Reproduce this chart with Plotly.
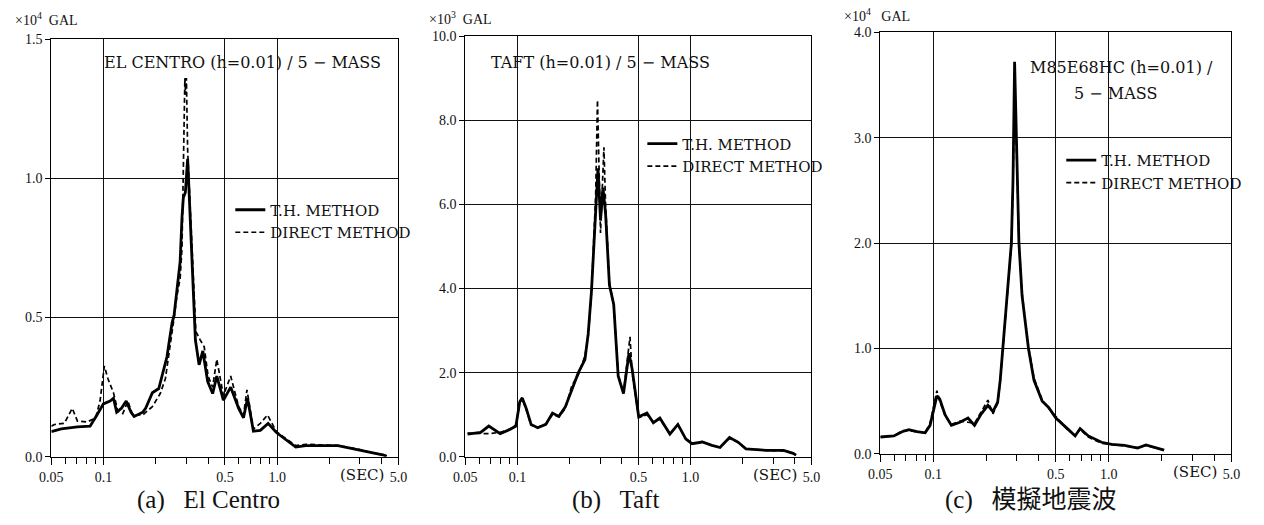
import plotly.graph_objects as go
import math

# ---------------- data ----------------
# (a) El Centro, values x10^4 GAL
a_th_T = [0.05, 0.057, 0.0707, 0.0836, 0.0916, 0.0997, 0.109, 0.114, 0.119, 0.127, 0.135, 0.144, 0.150,
          0.168, 0.175, 0.191, 0.208, 0.217, 0.232, 0.237, 0.248, 0.255, 0.262, 0.270, 0.276, 0.283, 0.288,
          0.296, 0.302, 0.305, 0.309, 0.317, 0.328, 0.338, 0.355, 0.373, 0.398, 0.425, 0.449, 0.49, 0.54,
          0.60, 0.64, 0.675, 0.73, 0.80, 0.887, 0.99, 1.28, 1.46, 2.24, 2.90, 3.47, 4.11, 4.28]
a_th_V = [0.09, 0.10, 0.107, 0.11, 0.15, 0.19, 0.20, 0.21, 0.16, 0.175, 0.20, 0.16, 0.145,
          0.16, 0.175, 0.23, 0.245, 0.29, 0.36, 0.40, 0.48, 0.51, 0.58, 0.64, 0.70, 0.86, 0.93,
          0.95, 1.02, 1.07, 0.99, 0.83, 0.59, 0.42, 0.33, 0.38, 0.27, 0.227, 0.29, 0.203, 0.25,
          0.174, 0.14, 0.21, 0.092, 0.095, 0.12, 0.087, 0.035, 0.04, 0.04, 0.026, 0.014, 0.006, 0.002]
a_dm_T = [0.05, 0.0521, 0.0594, 0.066, 0.0707, 0.0805, 0.090, 0.0954, 0.101, 0.106, 0.114, 0.121, 0.129,
          0.138, 0.147, 0.168, 0.191, 0.212, 0.227, 0.242, 0.255, 0.265, 0.276, 0.283, 0.289, 0.294,
          0.297, 0.300, 0.305, 0.310, 0.317, 0.328, 0.34, 0.36, 0.38, 0.40, 0.425, 0.449, 0.49, 0.54,
          0.60, 0.64, 0.67, 0.73, 0.80, 0.88, 0.99, 1.28, 1.46, 2.24, 2.90, 3.47, 4.11, 4.28]
a_dm_V = [0.11, 0.116, 0.12, 0.174, 0.128, 0.125, 0.14, 0.20, 0.326, 0.28, 0.23, 0.163, 0.155,
          0.20, 0.15, 0.15, 0.18, 0.227, 0.28, 0.395, 0.50, 0.58, 0.64, 0.75, 1.05, 1.36,
          1.30, 1.36, 1.10, 1.0, 0.85, 0.62, 0.45, 0.42, 0.395, 0.29, 0.25, 0.35, 0.22, 0.29,
          0.18, 0.15, 0.24, 0.10, 0.12, 0.15, 0.09, 0.04, 0.045, 0.04, 0.028, 0.015, 0.007, 0.002]

# (b) Taft, values x10^3 GAL
b_th_T = [0.0515, 0.0613, 0.0683, 0.0795, 0.0904, 0.098, 0.1031, 0.1066, 0.1124, 0.1199, 0.1309, 0.1459,
          0.1594, 0.1735, 0.1893, 0.2065, 0.2249, 0.2454, 0.2563, 0.2676, 0.2754, 0.285, 0.292, 0.302,
          0.312, 0.323, 0.340, 0.360, 0.382, 0.410, 0.441, 0.46, 0.502, 0.56, 0.61, 0.665, 0.76, 0.845,
          0.94, 1.02, 1.17, 1.33, 1.48, 1.68, 1.88, 2.09, 2.77, 3.45, 3.92, 4.07]
b_th_V = [0.54, 0.58, 0.73, 0.55, 0.65, 0.73, 1.31, 1.40, 1.15, 0.77, 0.69, 0.77,
          1.04, 0.96, 1.19, 1.62, 2.0, 2.31, 2.92, 3.92, 4.92, 6.0, 6.86, 5.62,
          6.40, 5.78, 4.08, 3.62, 1.92, 1.50, 2.46, 2.08, 0.95, 1.04, 0.81, 0.92, 0.54, 0.77,
          0.42, 0.31, 0.35, 0.27, 0.22, 0.46, 0.35, 0.19, 0.15, 0.15, 0.08, 0.04]
b_dm_T = [0.0515, 0.0613, 0.0683, 0.0795, 0.0904, 0.098, 0.1031, 0.1066, 0.1124, 0.1199, 0.1309, 0.1459,
          0.1594, 0.1735, 0.1893, 0.2065, 0.2249, 0.2454, 0.2563, 0.2676, 0.2754, 0.283, 0.290, 0.295,
          0.302, 0.310, 0.316, 0.323, 0.340, 0.360, 0.382, 0.410, 0.430, 0.447, 0.46, 0.502, 0.56, 0.61,
          0.665, 0.76, 0.845, 0.94, 1.02, 1.17, 1.33, 1.48, 1.68, 1.88, 2.09, 2.77, 3.45, 3.92, 4.07]
b_dm_V = [0.56, 0.55, 0.55, 0.58, 0.66, 0.75, 1.28, 1.38, 1.12, 0.75, 0.70, 0.78,
          1.0, 0.95, 1.15, 1.7, 1.95, 2.4, 2.85, 3.9, 5.0, 6.2, 8.48, 7.0,
          5.32, 6.5, 7.36, 6.0, 4.15, 3.6, 1.95, 1.52, 2.2, 2.85, 2.0, 0.93, 1.0, 0.83,
          0.90, 0.55, 0.75, 0.43, 0.32, 0.36, 0.27, 0.23, 0.44, 0.34, 0.19, 0.15, 0.14, 0.08, 0.04]

# (c) simulated wave, values x10^4 GAL
c_T = [0.05, 0.0597, 0.0665, 0.0726, 0.0808, 0.090, 0.096, 0.101, 0.105, 0.109, 0.117, 0.127, 0.142,
       0.158, 0.172, 0.188, 0.205, 0.219, 0.228, 0.233, 0.241, 0.249, 0.265, 0.279, 0.285, 0.291,
       0.300, 0.308, 0.321, 0.349, 0.375, 0.418, 0.455, 0.50, 0.59, 0.644, 0.687, 0.766, 0.91, 1.04,
       1.23, 1.46, 1.63, 1.82, 2.07]
c_th_V = [0.16, 0.17, 0.21, 0.23, 0.21, 0.20, 0.27, 0.43, 0.55, 0.52, 0.37, 0.27, 0.30,
          0.34, 0.27, 0.38, 0.46, 0.40, 0.45, 0.49, 0.70, 1.00, 1.50, 2.00, 2.60, 3.72,
          2.80, 2.00, 1.50, 1.00, 0.70, 0.50, 0.44, 0.34, 0.23, 0.17, 0.24, 0.17, 0.11, 0.09,
          0.08, 0.055, 0.085, 0.06, 0.035]
c_dm_V = [0.16, 0.17, 0.22, 0.22, 0.21, 0.20, 0.29, 0.47, 0.60, 0.50, 0.36, 0.28, 0.31,
          0.30, 0.29, 0.40, 0.51, 0.38, 0.44, 0.48, 0.69, 0.98, 1.48, 1.98, 2.55, 3.60,
          2.75, 2.02, 1.52, 1.02, 0.72, 0.51, 0.43, 0.35, 0.22, 0.18, 0.23, 0.16, 0.10, 0.09,
          0.075, 0.06, 0.08, 0.06, 0.035]

x_major = [0.05, 0.1, 0.5, 1.0, 5.0]
x_major_text = ["0.05", "0.1", "0.5", "1.0", "5.0"]
x_minor = [0.06, 0.07, 0.08, 0.09, 0.2, 0.3, 0.4, 0.6, 0.7, 0.8, 0.9, 2, 3, 4]

y_ticks = {
    1: ([0, 0.5, 1.0, 1.5], ["0.0", "0.5", "1.0", "1.5"], [0, 1.5]),
    2: ([0, 2, 4, 6, 8, 10], ["0.0", "2.0", "4.0", "6.0", "8.0", "10.0"], [0, 10]),
    3: ([0, 1, 2, 3, 4], ["0.0", "1.0", "2.0", "3.0", "4.0"], [0, 4]),
}

series = {
    1: (a_th_T, a_th_V, a_dm_T, a_dm_V),
    2: (b_th_T, b_th_V, b_dm_T, b_dm_V),
    3: (c_T, c_th_V, c_T, c_dm_V),
}

units = {1: "×10<sup>4</sup>  GAL", 2: "×10<sup>3</sup>  GAL", 3: "×10<sup>4</sup>   GAL"}
captions = {1: "(a)   El Centro", 2: "(b)   Taft", 3: "(c)   模擬地震波"}

# ---------------- layout geometry (pixels of the 1264x525 page) ----------------
W, H = 1264, 525


def px(X):
    return X / W


def py(Y):
    return 1 - Y / H


xdom = {1: (40, 393), 2: (461, 813), 3: (883, 1240)}
ydom = {1: (33, 463), 2: (30, 463), 3: (26, 460)}
unit_y = {1: 12, 2: 11, 3: 8}

FONT = "Liberation Serif, Noto Sans CJK JP, serif"
WFONT = "DejaVu Serif, Liberation Serif, serif"

fig = go.Figure()

legend_pos = {1: (222, 192), 2: (641, 124), 3: (1067, 141)}
caption_x = {1: 200, 2: 614, 3: 1036}

for i in (1, 2, 3):
    tT, tV, dT, dV = series[i]
    sfx = "" if i == 1 else str(i)
    leg = "legend" if i == 1 else f"legend{i}"
    fig.add_trace(go.Scatter(x=tT, y=tV, mode="lines", name="T.H. METHOD",
                             line=dict(color="black", width=2.8),
                             xaxis="x" + sfx, yaxis="y" + sfx, legend=leg))
    fig.add_trace(go.Scatter(x=dT, y=dV, mode="lines", name="DIRECT METHOD",
                             line=dict(color="black", width=1.7, dash="5px,3px"),
                             xaxis="x" + sfx, yaxis="y" + sfx, legend=leg))

    x0, x1 = xdom[i]
    y0, y1 = ydom[i]
    tv, tt, rng = y_ticks[i]
    fig.update_layout(**{
        "xaxis" + sfx: dict(
            type="log", range=[math.log10(0.05), math.log10(5.0)],
            domain=[px(x0), px(x1)], anchor="y" + sfx,
            tickvals=x_major, ticktext=x_major_text,
            ticks="outside", ticklen=7, tickcolor="black", tickwidth=1,
            showgrid=True, gridcolor="#111", gridwidth=1,
            showline=True, mirror=True, linecolor="black", linewidth=1.2,
            zeroline=False,
            tickfont=dict(family=FONT, size=14, color="#111"),
            minor=dict(tickvals=x_minor, ticks="outside", ticklen=6,
                       tickcolor="black", tickwidth=1, showgrid=False),
        ),
        "yaxis" + sfx: dict(
            range=rng, domain=[py(y1), py(y0)], anchor="x" + sfx,
            tickvals=tv, ticktext=tt,
            ticks="outside", ticklen=5, tickcolor="black",
            showgrid=True, gridcolor="#111", gridwidth=1,
            showline=True, mirror=True, linecolor="black", linewidth=1.2,
            zeroline=False,
            tickfont=dict(family=FONT, size=14, color="#111"),
        ),
    })
    lx, ly = legend_pos[i]
    fig.update_layout(**{leg: dict(
        x=px(lx), y=py(ly), xanchor="left", yanchor="top",
        bgcolor="rgba(0,0,0,0)", borderwidth=0,
        font=dict(family=WFONT, size=15, color="#111"),
        itemwidth=30, tracegroupgap=0,
    )})
    # unit label
    fig.add_annotation(x=px(x0 - 39), y=py(unit_y[i]), xref="paper", yref="paper",
                       text=units[i], showarrow=False, xanchor="left", yanchor="middle",
                       font=dict(family=FONT, size=14, color="#111"))
    # (SEC) label
    fig.add_annotation(x=1, y=0, xref=f"x{sfx} domain", yref=f"y{sfx} domain",
                       text="(SEC)", showarrow=False, xanchor="right", yanchor="top",
                       xshift=-12, yshift=-7,
                       font=dict(family=WFONT, size=15, color="#111"))
    # caption
    fig.add_annotation(x=px(caption_x[i]), y=py(508), xref="paper", yref="paper",
                       text=captions[i], showarrow=False, xanchor="center", yanchor="middle",
                       font=dict(family=FONT, size=25, color="#111"))

# chart titles inside panels
titles = [
    ("EL CENTRO (h=0.01) / 5 − MASS", 234, 57),
    ("TAFT (h=0.01) / 5 − MASS", 598, 57),
    ("M85E68HC (h=0.01) /", 1128, 62),
    ("5 − MASS", 1122, 89),
]
for txt, tx, ty in titles:
    fig.add_annotation(x=px(tx), y=py(ty), xref="paper", yref="paper",
                       text=txt, showarrow=False, xanchor="center", yanchor="middle",
                       font=dict(family=WFONT, size=16, color="#111"))

fig.update_layout(
    width=W, height=H, margin=dict(l=0, r=0, t=0, b=0),
    paper_bgcolor="white", plot_bgcolor="white",
    showlegend=True,
)

fig.write_html("out.html")
